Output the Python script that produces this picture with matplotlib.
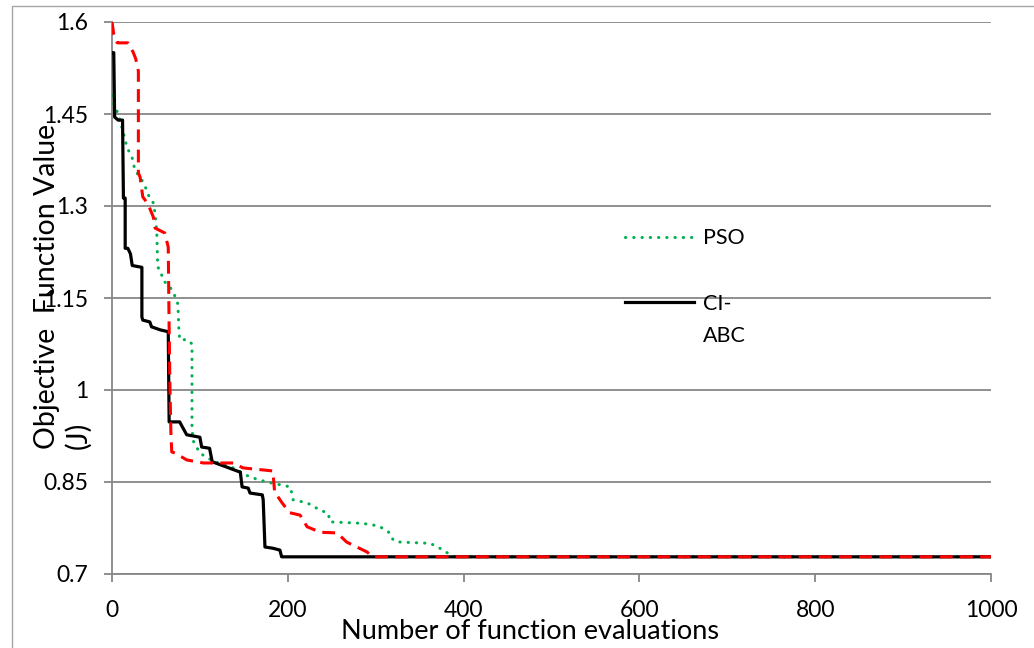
import matplotlib
matplotlib.use('Agg')
from matplotlib import pyplot as plt
from matplotlib.patches import Rectangle

plt.rcParams['font.family'] = ['Lato', 'DejaVu Sans']

# CI-ABC (black solid)
abc_x = [0, 2, 3, 7, 12, 13, 15, 15, 18, 21, 23, 34, 34, 35, 43, 45, 55, 64, 65, 77, 80, 85,
         100, 102, 111, 114, 131, 146, 148, 155, 157, 171, 172, 174, 183, 191, 193, 1000]
abc_y = [1.55, 1.55, 1.445, 1.44, 1.44, 1.313, 1.313, 1.231, 1.231, 1.222, 1.203, 1.20, 1.119,
         1.114, 1.111, 1.103, 1.098, 1.095, 0.948, 0.948, 0.940, 0.927, 0.923, 0.907, 0.905,
         0.883, 0.874, 0.866, 0.842, 0.840, 0.832, 0.829, 0.821, 0.744, 0.742, 0.739, 0.728, 0.728]

# third algorithm (red dashed, no legend entry)
red_x = [0, 2, 6, 18, 24, 27, 30, 30, 32, 35, 41, 47, 49, 60, 64, 65, 66, 67, 68, 72, 85, 104,
         138, 149, 183, 185, 193, 202, 214, 222, 237, 256, 267, 290, 297, 1000]
red_y = [1.60, 1.58, 1.566, 1.566, 1.551, 1.54, 1.52, 1.354, 1.347, 1.315, 1.303, 1.282, 1.264,
         1.256, 1.233, 1.10, 1.0, 0.93, 0.899, 0.897, 0.886, 0.881, 0.881, 0.873, 0.868, 0.834,
         0.817, 0.80, 0.796, 0.777, 0.768, 0.767, 0.752, 0.736, 0.728, 0.728]

# PSO (green dotted)
pso_x = [0, 1, 7, 13, 17, 23, 26, 34, 38, 40, 47, 49, 51, 52, 55, 58, 66, 72, 75, 76, 77, 86,
         91, 91, 92, 100, 115, 138, 157, 176, 203, 206, 222, 237, 246, 248, 279, 294, 305, 316,
         320, 328, 362, 373, 382, 390, 1000]
pso_y = [1.48, 1.47, 1.45, 1.419, 1.396, 1.378, 1.359, 1.342, 1.331, 1.321, 1.305, 1.288, 1.255,
         1.20, 1.196, 1.179, 1.168, 1.152, 1.14, 1.10, 1.082, 1.082, 1.075, 0.94, 0.918, 0.897,
         0.884, 0.873, 0.858, 0.85, 0.842, 0.821, 0.816, 0.804, 0.799, 0.785, 0.783, 0.781,
         0.777, 0.767, 0.755, 0.752, 0.75, 0.742, 0.734, 0.728, 0.728]

y_ticks = [0.7, 0.85, 1.0, 1.15, 1.3, 1.45, 1.6]
y_labels = ['0.7', '0.85', '1', '1.15', '1.3', '1.45', '1.6']
x_ticks = [0, 200, 400, 600, 800, 1000]

grey = '#878787'

fig = plt.figure(figsize=(10.34, 6.48), dpi=100)
ax = fig.add_axes([112/1034, 1 - 574/648, 879/1034, 552/648])

# outer frame of the chart area
fig.add_artist(Rectangle((12/1034, -0.1), 1.2, 1.1 - 6/648, transform=fig.transFigure,
                         fill=False, edgecolor='#a6a6a6', linewidth=1.0))

ax.plot(pso_x, pso_y, color='#00b050', linewidth=2.2, linestyle=(0, (0.1, 2.6)),
        dash_capstyle='round', label='PSO', zorder=3)
ax.plot(abc_x, abc_y, color='black', linewidth=2.3, label='CI-\nABC', zorder=4)
ax.plot(red_x, red_y, color='#ff0000', linewidth=2.2, linestyle=(0, (4.2, 2.4)), zorder=5)

ax.set_xlim(0, 1000)
ax.set_ylim(0.7, 1.6)
ax.set_xticks(x_ticks)
ax.set_yticks(y_ticks, labels=y_labels)
ax.grid(axis='y', color=grey, linewidth=1.3)
ax.set_axisbelow(True)

for s in ['top', 'right']:
    ax.spines[s].set_visible(False)
for s in ['left', 'bottom']:
    ax.spines[s].set_color(grey)
    ax.spines[s].set_linewidth(1.3)
ax.tick_params(axis='both', colors=grey, labelcolor='black', labelsize=16.5, length=6, width=1.3)
ax.tick_params(axis='x', pad=13)
ax.tick_params(axis='y', pad=11)

ax.set_xlabel('Number of function evaluations', fontsize=19.5)
ax.xaxis.set_label_coords(0.475, -0.082)
fig.text(63/1034, 1 - 449/648, 'Objective  Function Value\n(J)', rotation=90, fontsize=20.5,
         ha='center', va='bottom', multialignment='left', linespacing=1.2)

leg = ax.legend(loc='upper left', bbox_to_anchor=(0.584, 0.626), frameon=False, fontsize=15.5,
                handlelength=3.2, handletextpad=0.4, labelspacing=2.13, borderpad=0,
                borderaxespad=0)
leg.get_texts()[1].set_linespacing(1.7)
h = leg.legend_handles[1]
h.set_ydata([y + 13 for y in h.get_ydata()])

fig.savefig('out.png', dpi=100)
